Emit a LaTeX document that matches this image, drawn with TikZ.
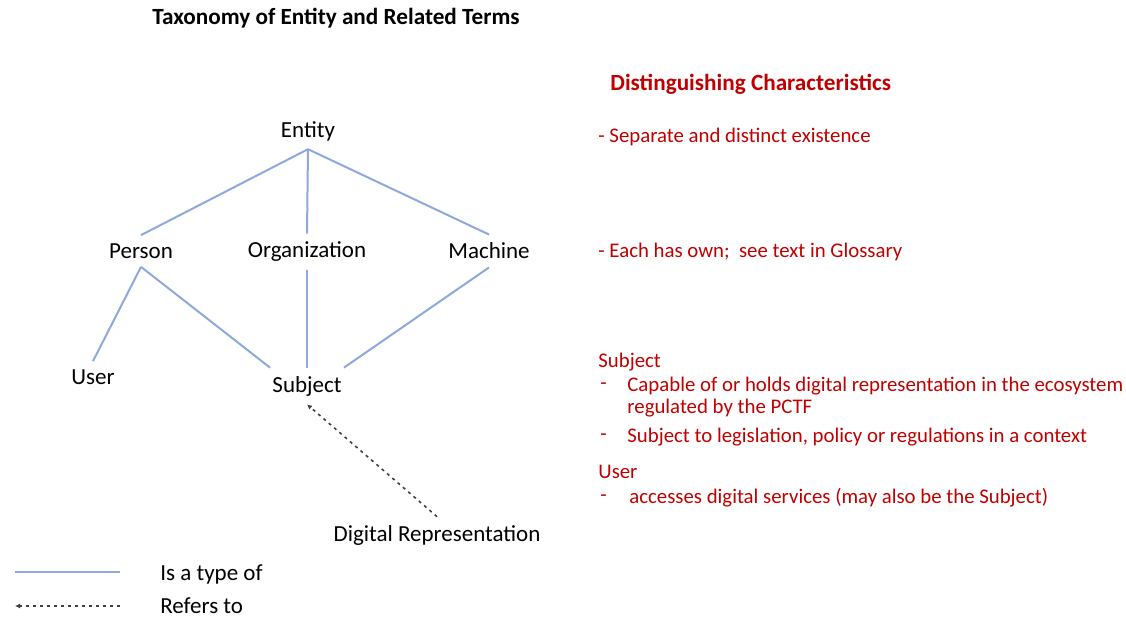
\documentclass[tikz,border=0pt]{standalone}
\usepackage{fontspec}
\setmainfont{Carlito}
\usetikzlibrary{arrows.meta}

\definecolor{typeblue}{HTML}{8EA9DB}
\definecolor{notered}{HTML}{C00000}

\tikzset{
	term/.style={font=\fontsize{11.5}{14}\selectfont, inner xsep=1pt, inner ysep=4pt},
	typeof/.style={typeblue, line width=1pt},
	refers/.style={black!75, line width=0.8pt, dash pattern=on 1.5pt off 2pt,
		-{Latex[length=2.5pt,width=2.5pt]}},
	note/.style={notered, anchor=west, inner sep=0pt, font=\fontsize{10.4}{12}\selectfont},
}

\begin{document}
\begin{tikzpicture}[x=0.5pt,y=-0.5pt]

\useasboundingbox (0,0) rectangle (1126,620);

\node[font=\bfseries\fontsize{11.6}{14}\selectfont] (title) at (336,18) {Taxonomy of Entity and Related Terms};

% the terms
\node[term] (e) at (308,131) {Entity};
\node[term] (p) at (141,251) {Person};
\node[term] (o) at (307,252) {Organization};
\node[term] (m) at (489,251) {Machine};
\node[term] (u) at (93,377) {User};
\node[term] (s) at (307,386) {Subject};
\node[term] (d) at (437,535) {Digital Representation};

\foreach \i/ \j in {e.south/p.north, e.south/o.north, e.south/m.north,
					p.south/u.north, p.south/s.north west,
					o.south/s.north, m.south/s.north east}
{
	\draw[typeof] (\i) -- (\j);
};

\draw[refers] (d.north) -- (s.south);

% legend
\coordinate (l1a) at (15,572);
\coordinate (l1b) at (120,572);
\coordinate (l2a) at (15,606);
\coordinate (l2b) at (120,606);
\node[term, anchor=west] (l1) at (158,574) {Is a type of};
\node[term, anchor=west] (l2) at (158,606) {Refers to};
\draw[typeof] (l1a) -- (l1b);
\draw[refers] (l2b) -- (l2a);

% characteristics
\node[note, font=\bfseries\fontsize{11.6}{14}\selectfont] (c0) at (610,84) {Distinguishing Characteristics};
\node[note] (c1) at (598,137) {- Separate and distinct existence};
\node[note] (c2) at (598,252) {- Each has own;\ \ see text in Glossary};
\node[note] (c3) at (598,362) {Subject};
\node[note] (c4d) at (600,386) {-};
\node[note] (c4) at (627,386) {Capable of or holds digital representation in the ecosystem};
\node[note] (c5) at (627,408) {regulated by the PCTF};
\node[note] (c6d) at (600,437) {-};
\node[note] (c6) at (627,437) {Subject to legislation, policy or regulations in a context};
\node[note] (c7) at (598,472) {User};
\node[note] (c8d) at (600,498) {-};
\node[note] (c8) at (629,498) {accesses digital services (may also be the Subject)};

\end{tikzpicture}
\end{document}
